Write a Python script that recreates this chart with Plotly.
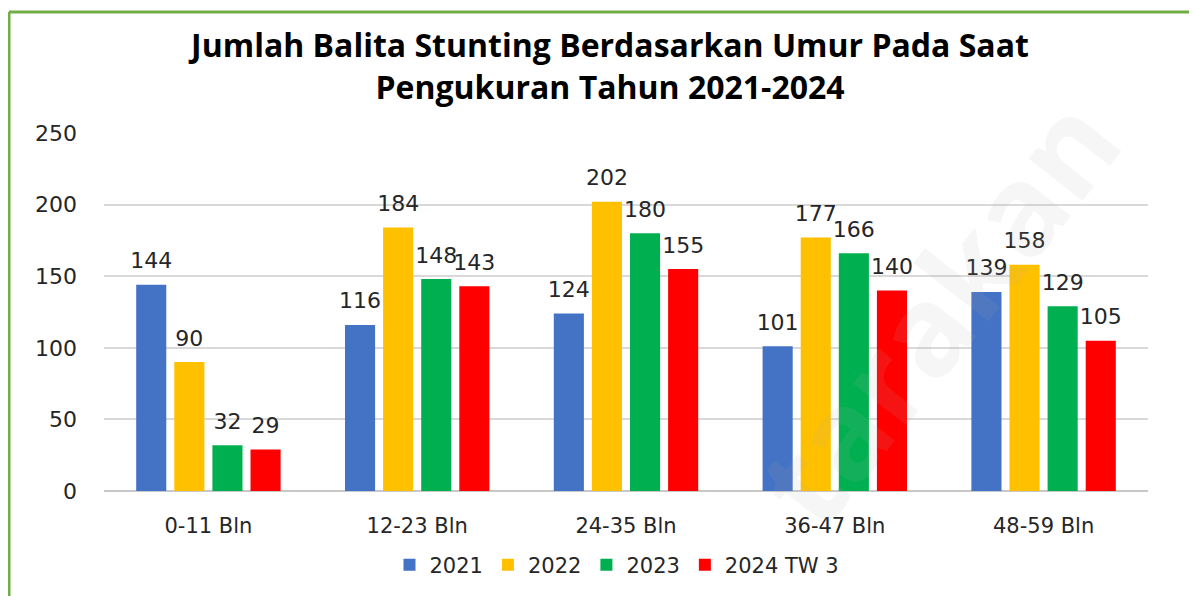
import plotly.graph_objects as go

categories = ["0-11 Bln", "12-23 Bln", "24-35 Bln", "36-47 Bln", "48-59 Bln"]
series_names = ["2021", "2022", "2023", "2024 TW 3"]
v2021 = [144, 116, 124, 101, 139]
v2022 = [90, 184, 202, 177, 158]
v2023 = [32, 148, 180, 166, 129]
v2024 = [29, 143, 155, 140, 105]
colors = ["#4472C4", "#FFC000", "#00B050", "#FF0000"]
y_ticks = [0, 50, 100, 150, 200, 250]

title_text = "Jumlah Balita Stunting Berdasarkan Umur Pada Saat<br>Pengukuran Tahun 2021-2024"

OFF = 8  # page body margin
W, H = 1189, 588
L, R, T, B = 96, 49, 125, 105
pw, ph = W - L - R, H - T - B


def fx(p):
    return (p - OFF - L) / pw


def fy(p):
    return (H - B - (p - OFF)) / ph


fig = go.Figure()
all_vals = [v2021, v2022, v2023, v2024]
for name, vals, col in zip(series_names, all_vals, colors):
    fig.add_trace(go.Bar(
        x=categories, y=vals, name=name, marker_color=col,
        marker_line_width=0, offsetgroup=name,
    ))
for name, vals in zip(series_names, all_vals):
    fig.add_trace(go.Scatter(
        x=categories, y=vals, mode="markers+text", text=[str(v) for v in vals],
        textposition="top center", offsetgroup=name, showlegend=False,
        marker=dict(size=16, opacity=0), cliponaxis=False,
        textfont=dict(family="DejaVu Sans", size=22, color="#262626"),
        hoverinfo="skip",
    ))

label_font = "DejaVu Sans"
fig.update_layout(
    width=W, height=H,
    margin=dict(l=L, r=R, t=T, b=B, autoexpand=False),
    paper_bgcolor="white", plot_bgcolor="white",
    barmode="group", scattermode="group",
    bargap=0.27, bargroupgap=0.21,
    title=dict(text=title_text, x=fx(610), xref="paper", xanchor="center",
               y=1 - (57 - OFF) / H, yref="container", yanchor="middle",
               font=dict(family="Open Sans", size=32, color="#000000", weight="bold")),
    showlegend=True,
    legend=dict(orientation="h", x=fx(617), y=fy(565), xanchor="center", yanchor="middle",
                font=dict(family=label_font, size=21, color="#262626"),
                itemwidth=30, traceorder="normal"),
    xaxis=dict(showgrid=False, showline=False, ticks="", ticklabelstandoff=20,
               tickfont=dict(family=label_font, size=21, color="#262626")),
    yaxis=dict(range=[0, 250], tickvals=y_ticks, showgrid=True, gridcolor="#d9d9d9",
               gridwidth=1.5, zeroline=True, zerolinecolor="#c8c8c8", zerolinewidth=2,
               showline=False, ticks="", ticklabelstandoff=26,
               tickfont=dict(family=label_font, size=22, color="#262626")),
    shapes=[
        dict(type="line", xref="paper", yref="paper", x0=fx(9), x1=fx(1210),
             y0=fy(12), y1=fy(12), line=dict(color="#70AD47", width=3)),
        dict(type="line", xref="paper", yref="paper", x0=fx(9), x1=fx(9),
             y0=fy(12), y1=fy(610), line=dict(color="#70AD47", width=3)),
    ],
    annotations=[
        dict(text="tarakan", xref="paper", yref="paper", x=fx(935), y=fy(310),
             xanchor="center", yanchor="middle",
             showarrow=False, textangle=-52,
             font=dict(family="Open Sans", size=125, color="rgba(170,170,170,0.11)", weight="bold")),
    ],
)

fig.write_html("out.html")
